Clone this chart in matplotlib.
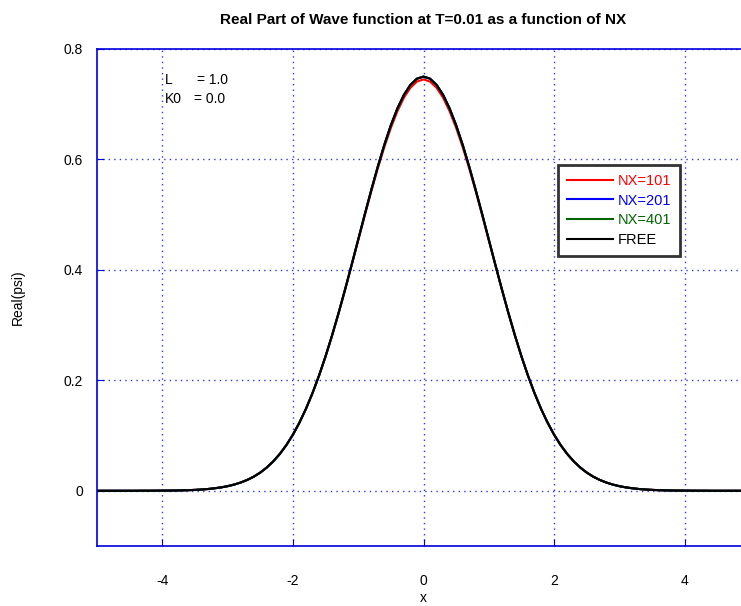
import numpy as np
import matplotlib
matplotlib.use('Agg')
from matplotlib import pyplot as plt

plt.rcParams['font.family'] = ['Liberation Sans', 'DejaVu Sans']

# values, x from -5 to 5 in steps of 0.1
x_vals = np.round(np.arange(-50, 51) * 0.1, 1)
free = [0.0, 0.0, 0.0, 0.0, 0.0, 0.0, 0.0, 0.0001, 0.0001, 0.0002,
        0.0003, 0.0004, 0.0005, 0.0008, 0.0011, 0.0016, 0.0023, 0.0032, 0.0045, 0.0061,
        0.0083, 0.0112, 0.0149, 0.0196, 0.0255, 0.0329, 0.0421, 0.0533, 0.0667, 0.0827,
        0.1015, 0.1234, 0.1484, 0.1768, 0.2085, 0.2435, 0.2815, 0.3222, 0.3651, 0.4096,
        0.4549, 0.5003, 0.5446, 0.587, 0.6265, 0.6619, 0.6923, 0.717, 0.7351, 0.7463,
        0.75,
        0.7463, 0.7351, 0.717, 0.6923, 0.6619, 0.6265, 0.587, 0.5446, 0.5003, 0.4549,
        0.4096, 0.3651, 0.3222, 0.2815, 0.2435, 0.2085, 0.1768, 0.1484, 0.1234, 0.1015,
        0.0827, 0.0667, 0.0533, 0.0421, 0.0329, 0.0255, 0.0196, 0.0149, 0.0112, 0.0083,
        0.0061, 0.0045, 0.0032, 0.0023, 0.0016, 0.0011, 0.0008, 0.0005, 0.0004, 0.0003,
        0.0002, 0.0001, 0.0001, 0.0, 0.0, 0.0, 0.0, 0.0, 0.0, 0.0]
nx101 = [0.0, 0.0, 0.0, 0.0, 0.0, 0.0, 0.0, 0.0001, 0.0001, 0.0002,
         0.0003, 0.0004, 0.0005, 0.0008, 0.0011, 0.0016, 0.0023, 0.0032, 0.0045, 0.0062,
         0.0084, 0.0113, 0.015, 0.0197, 0.0257, 0.0331, 0.0423, 0.0536, 0.067, 0.083,
         0.1018, 0.1236, 0.1485, 0.1768, 0.2083, 0.243, 0.2808, 0.3212, 0.3638, 0.408,
         0.453, 0.498, 0.5418, 0.5835, 0.6222, 0.657, 0.6872, 0.7118, 0.7298, 0.741,
         0.745,
         0.741, 0.7298, 0.7118, 0.6872, 0.657, 0.6222, 0.5835, 0.5418, 0.498, 0.453,
         0.408, 0.3638, 0.3212, 0.2808, 0.243, 0.2083, 0.1768, 0.1485, 0.1236, 0.1018,
         0.083, 0.067, 0.0536, 0.0423, 0.0331, 0.0257, 0.0197, 0.015, 0.0113, 0.0084,
         0.0062, 0.0045, 0.0032, 0.0023, 0.0016, 0.0011, 0.0008, 0.0005, 0.0004, 0.0003,
         0.0002, 0.0001, 0.0001, 0.0, 0.0, 0.0, 0.0, 0.0, 0.0, 0.0]
nx201 = list(free)
nx401 = list(free)
labels = ['NX=101', 'NX=201', 'NX=401', 'FREE']
colors = ['#ff0000', '#0000ff', '#006400', '#000000']

fig = plt.figure(figsize=(7.41, 6.06), dpi=100)
ax = fig.add_axes([97/741, 1-546/606, 653/741, (546-49)/606])

for y, lab, c in zip([nx101, nx201, nx401, free], labels, colors):
    ax.plot(x_vals, y, color=c, lw=1.5, label=lab)

ax.set_xlim(-5, 5)
ax.set_ylim(-0.1, 0.8)
ax.set_xticks([-4, -2, 0, 2, 4])
ax.set_xticklabels(['-4', '-2', '0', '2', '4'])
ax.set_yticks([0, 0.2, 0.4, 0.6, 0.8])
ax.set_yticklabels(['0', '0.2', '0.4', '0.6', '0.8'])
ax.tick_params(direction='in', length=5, color='#0000dd', labelsize=10)
ax.tick_params(axis='x', pad=20)
ax.tick_params(axis='y', pad=10)
for s in ax.spines.values():
    s.set_color('#0000dd')
    s.set_linewidth(1.2)
ax.grid(True, color='#3333ff', linestyle=(0, (1, 3)), lw=1)

ax.text(-3.96, 0.744, 'L', fontsize=10, va='center')
ax.text(-3.47, 0.744, '= 1.0', fontsize=10, va='center')
ax.text(-3.96, 0.709, 'K0', fontsize=10, va='center')
ax.text(-3.52, 0.709, '= 0.0', fontsize=10, va='center')

ax.set_title('Real Part of Wave function at T=0.01 as a function of NX',
             fontsize=11, fontweight='bold', pad=18)
ax.set_ylabel('Real(psi)', fontsize=10, labelpad=28)
ax.set_xlabel('x', fontsize=10, labelpad=2)

leg = ax.legend(loc='upper left', bbox_to_anchor=(558/741, 1-165/606),
                bbox_transform=fig.transFigure, fontsize=10.5, handlelength=3.2,
                handletextpad=0.3, frameon=True, fancybox=False,
                borderpad=0.6, labelspacing=0.4, borderaxespad=0)
leg.get_frame().set_edgecolor('black')
leg.get_frame().set_linewidth(2)
for t, c in zip(leg.get_texts(), colors):
    t.set_color(c)

fig.savefig('out.png', dpi=100)
